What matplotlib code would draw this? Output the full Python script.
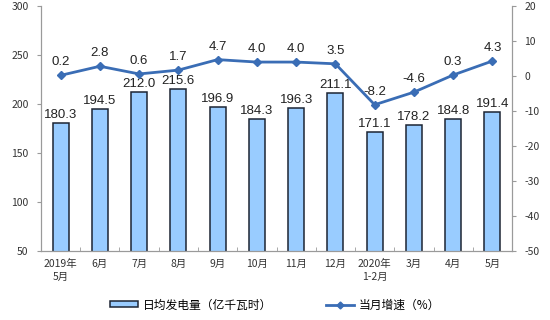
import matplotlib
matplotlib.use("Agg")
import matplotlib.pyplot as plt
from matplotlib.patches import Patch
from matplotlib.lines import Line2D

plt.rcParams['font.family'] = ['Noto Sans CJK SC', 'DejaVu Sans']
plt.rcParams['axes.unicode_minus'] = False

months = ['2019年\n5月', '6月', '7月', '8月', '9月', '10月', '11月', '12月',
          '2020年\n1-2月', '3月', '4月', '5月']
daily_output = [180.3, 194.5, 212.0, 215.6, 196.9, 184.3, 196.3, 211.1,
                171.1, 178.2, 184.8, 191.4]
growth = [0.2, 2.8, 0.6, 1.7, 4.7, 4.0, 4.0, 3.5, -8.2, -4.6, 0.3, 4.3]

bar_color = '#99CCFF'
edge_color = '#1c2433'
line_color = '#3a6db5'
axis_color = '#9a9a9a'

fig = plt.figure(figsize=(5.5, 3.2), dpi=100)
ax = fig.add_axes([0.0745, 0.2156, 0.8565, 0.7654])
ax2 = ax.twinx()

x = list(range(len(months)))
ax.bar(x, daily_output, width=0.41, color=bar_color, edgecolor=edge_color,
       linewidth=1.1, zorder=2)
for i, v in zip(x, daily_output):
    ax.annotate(f'{v:.1f}', (i, v), xytext=(0, 1.5), textcoords='offset points',
                ha='center', va='bottom', fontsize=9.5, family='Liberation Sans',
                color='#222222')

ax2.plot(x, growth, color=line_color, lw=2, marker='D', ms=4.5, zorder=3)
for i, v in zip(x, growth):
    ax2.annotate(f'{v:.1f}', (i, v), xytext=(0, 5), textcoords='offset points',
                 ha='center', va='bottom', fontsize=9.5, family='Liberation Sans',
                 color='#222222')

ax.set_xlim(-0.5, len(months) - 0.5)
ax.set_ylim(50, 300)
ax.set_yticks(range(50, 301, 50))
ax2.set_ylim(-50, 20)
ax2.set_yticks(range(-50, 21, 10))

ax.set_xticks(x)
ax.set_xticklabels(months, fontsize=7.5, color='#333333', linespacing=1.3)
ax.tick_params(axis='x', length=0, pad=6)
ax.set_xticks([i + 0.5 for i in x[:-1]], minor=True)
ax.tick_params(axis='x', which='minor', direction='in', length=3, color=axis_color)
ax.tick_params(axis='y', length=3, color=axis_color, labelsize=7.5,
               labelcolor='#333333', pad=6)
ax2.tick_params(axis='y', length=3, color=axis_color, labelsize=7.5,
                labelcolor='#333333', pad=6)

for a in (ax, ax2):
    a.spines['top'].set_visible(False)
    for s in ('left', 'right', 'bottom'):
        a.spines[s].set_color(axis_color)
        a.spines[s].set_linewidth(0.8)

handles = [Patch(facecolor=bar_color, edgecolor=edge_color, linewidth=1.1),
           Line2D([], [], color=line_color, lw=2, marker='D', ms=3.5)]
labels = ['日均发电量（亿千瓦时）', '当月增速（%）']
fig.legend(handles, labels, loc='center', bbox_to_anchor=(0.5, 0.047), ncol=2,
           frameon=False, fontsize=8.5, handlelength=2.4, handleheight=0.4,
           columnspacing=4.5, handletextpad=0.4)

fig.savefig('out.png', dpi=100)
